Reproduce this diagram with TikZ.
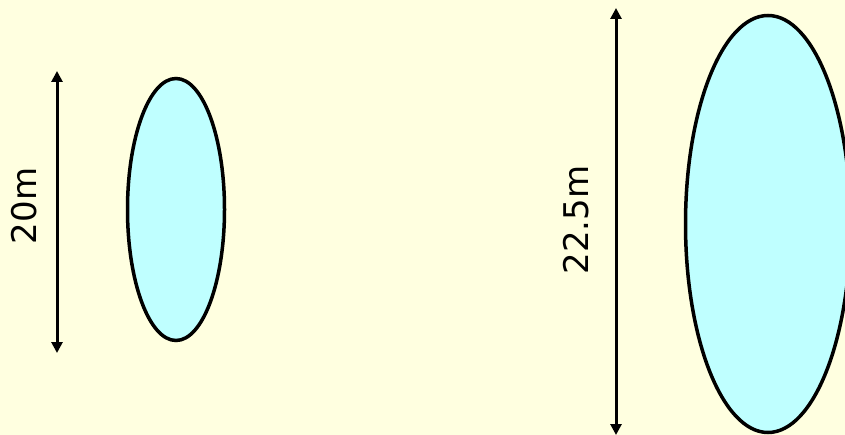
\documentclass[tikz,border=0pt]{standalone}
\usepackage{fontspec}
\setmainfont{DejaVu Sans}
\usetikzlibrary{shapes.geometric,arrows.meta}
\definecolor{bgyellow}{HTML}{FFFFE0}
\definecolor{blobcyan}{HTML}{BFFFFF}
\tikzset{
  blob/.style={ellipse, draw=black, line width=3.5pt, fill=blobcyan, inner sep=0pt},
  dimline/.style={line width=3pt, {Triangle[length=11pt,width=11pt]}-{Triangle[length=11pt,width=11pt]}},
  dimlabel/.style={rotate=90, font=\fontsize{34}{40}\selectfont, inner sep=0pt}
}
\begin{document}
\begin{tikzpicture}[x=1pt,y=-1pt]
\path[fill=bgyellow] (0,0) rectangle (845,435);
\useasboundingbox (0,0) rectangle (845,435);
\clip (0,0) rectangle (845,435);
\node[blob, minimum width=97pt, minimum height=262pt] (small) at (176,209.5) {};
\node[blob, minimum width=165pt, minimum height=417pt] (big) at (768,224) {};
\coordinate (s1) at (57,71);
\coordinate (s2) at (57,353);
\coordinate (b1) at (616,8);
\coordinate (b2) at (616,435);
\draw[dimline] (s1) -- (s2);
\draw[dimline] (b1) -- (b2);
\node[dimlabel] (l1) at (24,206) {20m};
\node[dimlabel] (l2) at (576,220) {22.5m};
\end{tikzpicture}
\end{document}
